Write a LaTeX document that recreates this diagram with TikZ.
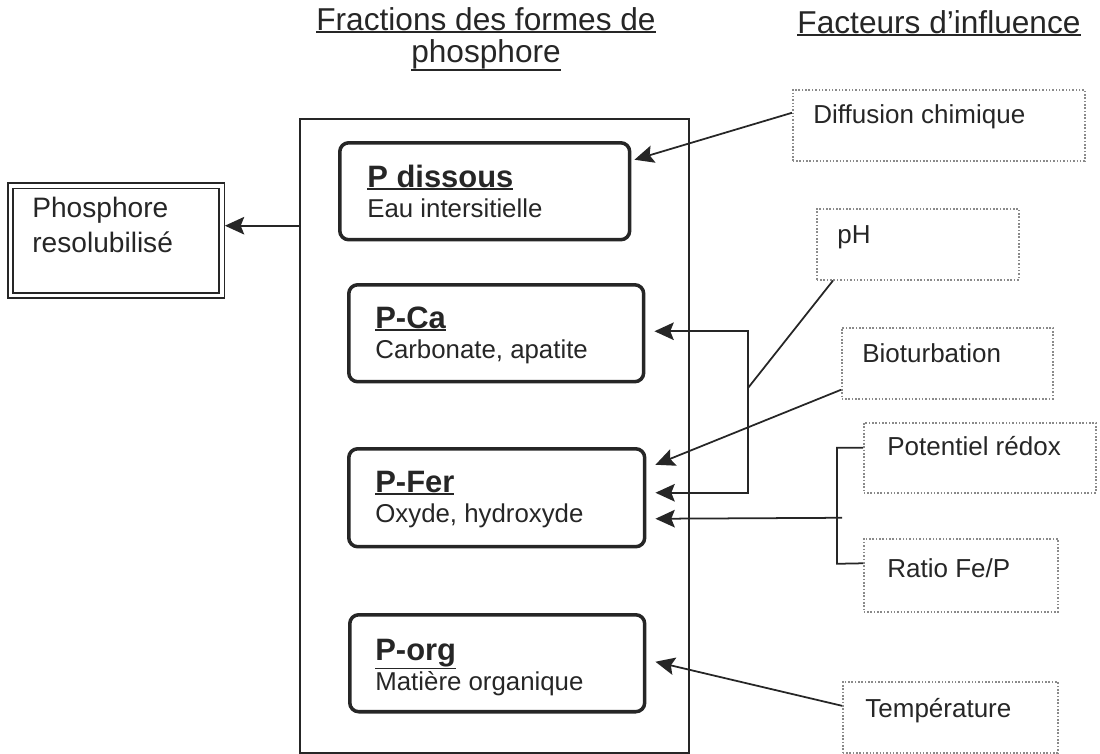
\documentclass[tikz,border=0pt]{standalone}
\usepackage{fontspec}
\setmainfont{Liberation Sans}
\usetikzlibrary{arrows.meta,calc}

\definecolor{ink}{HTML}{262626}
\definecolor{dotgray}{HTML}{8A8A8A}

% font sizes
\newcommand\headfont{\fontsize{18}{21}\selectfont}
\newcommand\fractitlefont{\fontsize{17.6}{20}\selectfont\bfseries}
\newcommand\fracsubfont{\fontsize{14.7}{17}\selectfont}
\newcommand\factorfont{\fontsize{14.8}{17}\selectfont}
\newcommand\leftfont{\fontsize{16}{19}\selectfont}

% underline with a thicker rule, placed just below the text depth
\newsavebox\ulbox
\newcommand\ulin[2][1.1pt]{\sbox\ulbox{#2}\rlap{\rule[\dimexpr-\dp\ulbox-1.5pt\relax]{\wd\ulbox}{#1}}\usebox\ulbox}

\begin{document}
\begin{tikzpicture}[x=0.02cm,y=-0.02cm,
  frac/.style={draw=ink, line width=2pt, rounded corners=0.18cm, anchor=north west, inner sep=0pt},
  factor/.style={draw=dotgray, densely dotted, line width=0.9pt, anchor=north west, inner sep=0pt},
  frame/.style={draw=ink, line width=1pt, anchor=north west, inner sep=0pt},
  txt/.style={anchor=base west, inner sep=0pt, text=ink},
  head/.style={anchor=base, inner sep=0pt, text=ink, font=\headfont},
  conn/.style={draw=ink, line width=1pt},
  arr/.style={conn, -{Stealth[length=11pt,width=10pt,inset=2pt]}}]

\useasboundingbox (0,0) rectangle (1100,754);

% column headings
\node[head] (h1a) at (486,30) {\ulin{Fractions des formes de}};
\node[head] (h1b) at (486,62) {\ulin{phosphore}};
\node[head] (h2)  at (939,33) {\ulin{Facteurs d’influence}};

% frame holding the phosphorus fractions
\node[frame, minimum width=7.78cm, minimum height=12.68cm] (big) at (299,118) {};

% phosphorus fractions
\node[frac, minimum width=5.8cm,  minimum height=1.94cm] (pdis) at (338,141) {};
\node[frac, minimum width=5.9cm,  minimum height=1.94cm] (pca)  at (347,283) {};
\node[frac, minimum width=5.92cm, minimum height=1.96cm] (pfer) at (347,447) {};
\node[frac, minimum width=5.9cm,  minimum height=1.94cm] (porg) at (348,613) {};

\node[txt, font=\fractitlefont] (pdis-t) at (367,187) {\ulin[0.9pt]{P dissous}};
\node[txt, font=\fracsubfont]   (pdis-s) at (367,217) {Eau intersitielle};
\node[txt, font=\fractitlefont] (pca-t)  at (375,328) {\ulin[0.9pt]{P-Ca}};
\node[txt, font=\fracsubfont]   (pca-s)  at (375,358) {Carbonate, apatite};
\node[txt, font=\fractitlefont] (pfer-t) at (375,492) {\ulin[0.9pt]{P-Fer}};
\node[txt, font=\fracsubfont]   (pfer-s) at (375,522) {Oxyde, hydroxyde};
\node[txt, font=\fractitlefont] (porg-t) at (375,660) {\ulin[0.9pt]{P-org}};
\node[txt, font=\fracsubfont]   (porg-s) at (375,690) {Matière organique};

% released phosphorus
\node[draw=ink, line width=1.1pt, double, double distance=1.8pt, anchor=north west,
      inner sep=0pt, minimum width=4.23cm, minimum height=2.19cm] (res) at (9.5,185) {};
\node[txt, font=\leftfont] (res-a) at (32,217) {Phosphore};
\node[txt, font=\leftfont] (res-b) at (32,252) {resolubilisé};

% influence factors
\node[factor, minimum width=5.84cm, minimum height=1.42cm] (dif)   at (792,89)  {};
\node[factor, minimum width=4.04cm, minimum height=1.42cm] (ph)    at (816,208) {};
\node[factor, minimum width=4.22cm, minimum height=1.42cm] (bio)   at (841,327) {};
\node[factor, minimum width=4.64cm, minimum height=1.40cm] (pot)   at (863,422) {};
\node[factor, minimum width=3.88cm, minimum height=1.46cm] (ratio) at (863,538) {};
\node[factor, minimum width=4.30cm, minimum height=1.42cm] (temp)  at (842,681) {};

\node[txt, font=\factorfont] (dif-t)   at (813,123) {Diffusion chimique};
\node[txt, font=\factorfont] (ph-t)    at (837,243) {pH};
\node[txt, font=\factorfont] (bio-t)   at (862,362) {Bioturbation};
\node[txt, font=\factorfont] (pot-t)   at (887,455) {Potentiel rédox};
\node[txt, font=\factorfont] (ratio-t) at (887,577) {Ratio Fe/P};
\node[txt, font=\factorfont] (temp-t)  at (865,717) {Température};

% release out of the sediment
\draw[arr] ($(big.west |- res.east)+(0,-15)$) -- ($(res.east)+(2,-15)$);

% chemical diffusion
\draw[arr] ($(dif.west)+(0,-12.5)$) -- ($(pdis.east)+(3,-31.5)$);

% pH acts on P-Ca and P-Fer
\coordinate (phj) at (748,388);
\draw[conn] ($(ph.south west)+(17,0)$) -- (phj);
\draw[arr] (phj) |- ($(pca.east)+(9,-2)$);
\draw[arr] (phj) |- ($(pfer.east)+(9,-5)$);

% bioturbation
\draw[arr] ($(bio.west)+(0,26.5)$) -- ($(pfer.east)+(9,-33)$);

% redox potential and Fe/P ratio
\draw[conn] ($(pot.west)+(0,-10)$) -- ++(-26,0) -- ++(0,116) -- ($(ratio.west)+(0,-12)$);
\draw[arr] ($(pot.west)+(-21,60)$) -- ($(pfer.east)+(9,21)$);

% temperature
\draw[arr] ($(temp.west)+(0,-11.5)$) -- ($(porg.east)+(9,-1.5)$);

\end{tikzpicture}
\end{document}
